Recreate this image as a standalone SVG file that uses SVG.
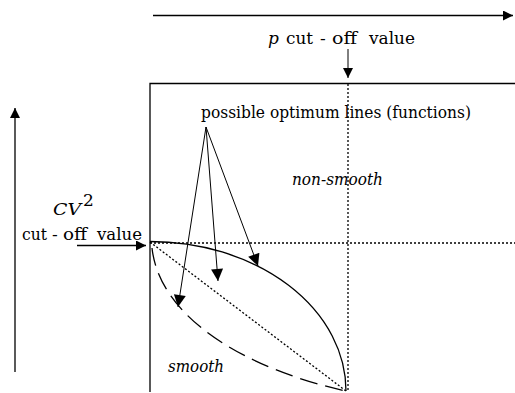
<svg xmlns="http://www.w3.org/2000/svg" width="515" height="393" viewBox="0 0 515 393" font-family="'DejaVu Serif', serif">
<style>
text{font-family:"DejaVu Serif",serif;fill:#000;font-size:17px}
.i{font-style:italic}
.ln{fill:none;stroke:#000;stroke-width:1.3}
.thin{fill:none;stroke:#000;stroke-width:1}
.dot{fill:none;stroke:#000;stroke-width:1.3;stroke-dasharray:2 2}
</style>
<defs>
<marker id="ah" viewBox="0 0 10 10" refX="10" refY="5" markerWidth="10" markerHeight="10" markerUnits="userSpaceOnUse" orient="auto">
<path d="M0,0 L10,5 L0,10 z" fill="#000"/>
</marker>
<marker id="ahb" viewBox="0 0 10 10" refX="10" refY="5" markerWidth="14" markerHeight="12" markerUnits="userSpaceOnUse" orient="auto">
<path d="M0,0 L10,5 L0,10 z" fill="#000"/>
</marker>
</defs>
<g id="frame">
<path class="ln" d="M150,392 V83.5 H515"/>
<path class="dot" d="M348,84 V392"/>
<path class="dot" d="M150,243 H515"/>
</g>
<g id="axes">
<line class="ln" stroke-width="1.6" x1="153" y1="15.5" x2="513" y2="15.5" marker-end="url(#ah)"/>
<line class="ln" stroke-width="1.6" x1="15" y1="372" x2="15" y2="108" marker-end="url(#ah)"/>
</g>
<g id="p-label">
<text x="268" y="44" class="i">p</text>
<text x="286" y="44" textLength="27" lengthAdjust="spacingAndGlyphs">cut</text>
<text x="320" y="44">-</text>
<text x="332" y="44" textLength="25" lengthAdjust="spacingAndGlyphs">off</text>
<text x="369" y="44" textLength="46" lengthAdjust="spacingAndGlyphs">value</text>
</g>
<g id="cv-label">
<text class="i" x="53" y="215" font-size="19.5" textLength="28" lengthAdjust="spacingAndGlyphs">CV</text>
<text x="83" y="206" font-size="12">2</text>
<text x="22" y="239.5" textLength="25" lengthAdjust="spacingAndGlyphs">cut</text>
<text x="52" y="239.5">-</text>
<text x="63" y="239.5" textLength="24" lengthAdjust="spacingAndGlyphs">off</text>
<text x="97" y="239.5" textLength="45" lengthAdjust="spacingAndGlyphs">value</text>
</g>
<g id="optimum-label">
<text x="201" y="118" textLength="270" lengthAdjust="spacingAndGlyphs">possible optimum lines (functions)</text>
</g>
<g id="non-smooth"><text class="i" x="292" y="185" textLength="91" lengthAdjust="spacingAndGlyphs">non-smooth</text></g>
<g id="smooth"><text class="i" x="168" y="372" textLength="56" lengthAdjust="spacingAndGlyphs">smooth</text></g>
<g id="curves">
<path class="ln" stroke-width="1.8" d="M150,241.5 A196,149.5 0 0 1 346,391"/>
<path class="ln" stroke-width="1.8" stroke-dasharray="18 8" d="M152,248 C160,320 250,370 346,391"/>
<path class="dot" d="M150,242 L346,391"/>
</g>
<g id="connectors">
<line class="thin" x1="348" y1="49" x2="348" y2="78" marker-end="url(#ah)"/>
<line class="ln" x1="77" y1="245.5" x2="146" y2="245.5" marker-end="url(#ah)"/>
<line class="thin" x1="206" y1="127" x2="178" y2="307" marker-end="url(#ahb)"/>
<line class="thin" x1="206" y1="127" x2="218" y2="281" marker-end="url(#ahb)"/>
<line class="thin" x1="206" y1="127" x2="258" y2="266" marker-end="url(#ahb)"/>
</g>
</svg>
